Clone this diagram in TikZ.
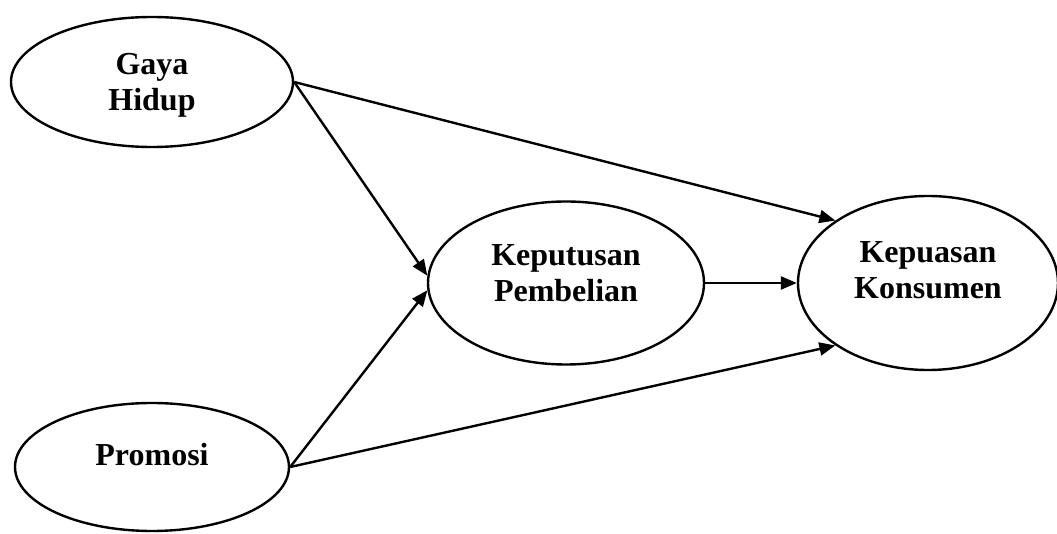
\documentclass[tikz,border=0pt]{standalone}
\usepackage{fontspec}
\setmainfont{Liberation Serif}
\usetikzlibrary{shapes.geometric, positioning, arrows.meta}

\newcommand{\twolines}[2]{\begin{tabular}[b]{@{}c@{}}#1\\#2\end{tabular}}

\begin{document}
\begin{tikzpicture}[on grid, auto, >={Triangle[length=8pt,width=6.5pt]},
    var/.style={ellipse, draw, line width=1.2pt, inner sep=0pt,
      font=\fontsize{16}{18.4}\selectfont\bfseries}]
  \useasboundingbox (-76pt,41pt) rectangle (452.5pt,-226pt);

  \node[var, minimum width=141pt, minimum height=65pt, text depth=2.3pt] (gaya) {\twolines{Gaya}{Hidup}};
  \node[var, minimum width=137pt, minimum height=64pt, text depth=13pt] (promosi) [below=192.5pt of gaya] {Promosi};
  \node[var, minimum width=138pt, minimum height=81.5pt, text depth=12.3pt] (keputusan) [below right=100.5pt and 207pt of gaya] {\twolines{Keputusan}{Pembelian}};
  \node[var, minimum width=130pt, minimum height=87pt, text depth=15.3pt] (kepuasan) [right=181pt of keputusan] {\twolines{Kepuasan}{Konsumen}};

  \path[->, line width=1.2pt]
    (gaya.east) edge (keputusan.177)
                edge (kepuasan.146)
    (promosi.east) edge (keputusan.183)
                   edge (kepuasan.214)
    (keputusan) edge (kepuasan);
\end{tikzpicture}
\end{document}
